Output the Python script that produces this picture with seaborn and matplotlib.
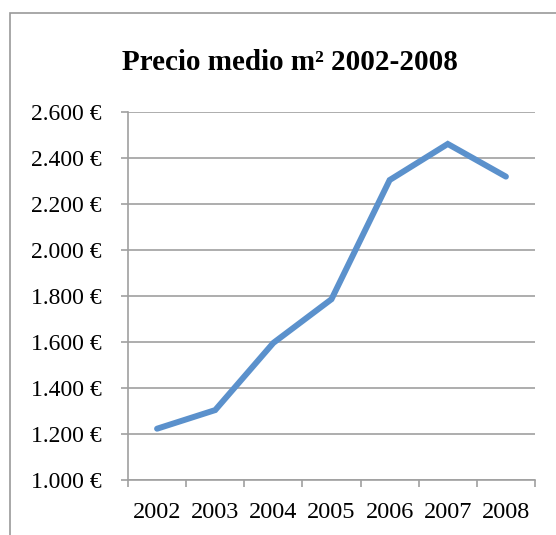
import matplotlib
matplotlib.use("Agg")
import matplotlib.pyplot as plt
import matplotlib.ticker as mticker
from matplotlib.patches import Rectangle
import seaborn as sns
import pandas as pd

sns.set_style("white")
plt.rcParams['font.family'] = ['Liberation Serif', 'DejaVu Serif']
plt.rcParams['text.color'] = 'black'
plt.rcParams['xtick.color'] = 'black'
plt.rcParams['ytick.color'] = 'black'

years = ["2002", "2003", "2004", "2005", "2006", "2007", "2008"]
precio = [1223, 1304, 1596, 1786, 2304, 2461, 2319]

df = pd.DataFrame({"year": years, "precio": precio})

grey = "#A0A0A0"
fig = plt.figure(figsize=(5.56, 5.35), dpi=100)
ax = fig.add_axes([0.2302, 0.1028, 0.732, 0.6879])

sns.lineplot(data=df, x="year", y="precio", ax=ax, color="#5B91CC",
             linewidth=4.3, solid_capstyle="round", solid_joinstyle="miter")

ax.set_xlim(-0.5, len(years) - 0.5)
ax.set_ylim(1000, 2600)
ax.yaxis.set_major_locator(mticker.MultipleLocator(200))
ax.yaxis.set_major_formatter(mticker.FuncFormatter(
    lambda v, p: "{:,.0f} €".format(v).replace(",", ".")))

ax.set_xticks(range(len(years)))
ax.set_xticklabels(years)
ax.set_xticks([i - 0.5 for i in range(len(years) + 1)], minor=True)
ax.tick_params(axis="x", which="major", bottom=True, length=0, pad=16,
               labelsize=17.5, labelcolor="black")
ax.tick_params(axis="x", which="minor", bottom=True, length=5, width=1.2, color=grey)
ax.tick_params(axis="y", left=True, length=5, width=1.2, color=grey, pad=14,
               labelsize=17, labelcolor="black")

ax.grid(axis="y", color=grey, linewidth=1.2)
ax.grid(axis="x", visible=False)
ax.set_axisbelow(True)
for s in ["top", "right"]:
    ax.spines[s].set_visible(False)
for s in ["left", "bottom"]:
    ax.spines[s].set_color(grey)
    ax.spines[s].set_linewidth(1.2)
ax.set_xlabel("")
ax.set_ylabel("")

fig.text(0.5216, 0.884, "Precio medio m² 2002-2008", ha="center", va="center",
         fontsize=21, fontweight="bold", color="black")

# chart frame, cut off at right and bottom like the screenshot
fig.patches.append(Rectangle((10 / 556, -0.05), 1.0, (535 - 13) / 535 + 0.05,
                             transform=fig.transFigure, fill=False,
                             edgecolor="#999999", linewidth=1.2))

plt.savefig("out.png", dpi=100)
